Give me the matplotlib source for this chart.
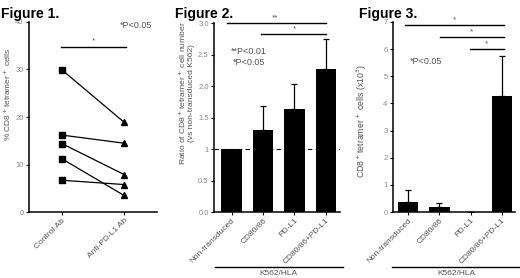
import numpy as np
import matplotlib
matplotlib.use("Agg")
import matplotlib.pyplot as plt

plt.rcParams['font.family'] = ['Liberation Sans', 'DejaVu Sans']

# Figure 1: paired values
f1_groups = ['Control Ab', 'Anti-PD-L1 Ab']
f1_control = [29.9, 16.2, 14.4, 11.2, 6.7]
f1_anti = [18.9, 14.5, 7.9, 3.5, 5.8]
f1_yticks = [0, 10, 20, 30, 40]

# Figure 2: ratio bars
f2_cats = ['Non-transduced', 'CD80/86', 'PD-L1', 'CD80/86+PD-L1']
f2_vals = [1.0, 1.30, 1.64, 2.27]
f2_err = [0.0, 0.39, 0.39, 0.48]
f2_yticks = [0.0, 0.5, 1.0, 1.5, 2.0, 2.5, 3.0]
f2_ylabels = ['0.0', '0.5', '1', '1.5', '2.0', '2.5', '3.0']

# Figure 3: cell counts
f3_cats = ['Non-transduced', 'CD80/86', 'PD-L1', 'CD80/86+PD-L1']
f3_vals = [0.38, 0.17, 0.0, 4.27]
f3_err = [0.43, 0.17, 0.0, 1.48]
f3_yticks = [0, 1, 2, 3, 4, 5, 6, 7]

TICK_C = '#8a8a8a'
LAB_C = '#555555'

fig = plt.figure(figsize=(5.2, 2.78), dpi=100)


def style(ax):
    for s in ['top', 'right']:
        ax.spines[s].set_visible(False)
    for s in ['left', 'bottom']:
        ax.spines[s].set_linewidth(1.1)
    ax.tick_params(axis='y', labelsize=5.5, labelcolor=TICK_C, length=2.5, width=0.8, pad=1.5)
    ax.tick_params(axis='x', labelsize=6, labelcolor=LAB_C, length=2.5, width=0.8, pad=1)


# ---- Figure 1
ax1 = fig.add_axes([0.056, 0.237, 0.246, 0.684])
style(ax1)
for c, a in zip(f1_control, f1_anti):
    ax1.plot([0, 1], [c, a], color='k', lw=0.9)
ax1.plot(np.zeros(len(f1_control)), f1_control, 's', color='k', ms=4)
ax1.plot(np.ones(len(f1_anti)), f1_anti, '^', color='k', ms=4)
ax1.set_xlim(-0.53, 1.53)
ax1.set_ylim(0, 40)
ax1.set_yticks(f1_yticks)
ax1.set_xticks([0, 1])
ax1.set_xticklabels(f1_groups, rotation=45, ha='right', rotation_mode='anchor')
ax1.set_ylabel('% CD8$^+$tetramer$^+$ cells', fontsize=6, color=LAB_C)
ax1.yaxis.set_label_coords(-0.125, 0.62)
ax1.plot([-0.02, 1.03], [34.7, 34.7], color='k', lw=1, clip_on=False)
ax1.text(0.5, 35.3, '*', ha='center', va='bottom', fontsize=6, color=LAB_C)
ax1.text(0.96, 0.98, '*P<0.05', transform=ax1.transAxes, ha='right', va='center',
         fontsize=6.5, color=LAB_C)
fig.text(0.002, 0.975, 'Figure 1.', fontsize=10, fontweight='bold', va='top')

# ---- Figure 2
ax2 = fig.add_axes([0.412, 0.237, 0.242, 0.680])
style(ax2)
x2 = np.arange(len(f2_cats))
ax2.bar(x2, f2_vals, width=0.66, color='k')
ax2.errorbar(x2[1:], f2_vals[1:], yerr=[np.zeros(3), f2_err[1:]], fmt='none',
             ecolor='k', elinewidth=0.9, capsize=2.5, capthick=0.9)
ax2.axhline(1.0, color='k', lw=0.8, ls=(0, (4, 3)))
ax2.set_xlim(-0.55, 3.45)
ax2.set_ylim(0, 3.0)
ax2.set_yticks(f2_yticks)
ax2.set_yticklabels(f2_ylabels)
ax2.set_xticks(x2)
ax2.set_xticklabels(f2_cats, rotation=45, ha='right', rotation_mode='anchor')
ax2.set_ylabel('Ratio of CD8$^+$tetramer$^+$ cell number\n(vs non-transduced K562)',
               fontsize=6.1, color=LAB_C, linespacing=1.1)
ax2.yaxis.set_label_coords(-0.15, 0.63)
ax2.plot([-0.15, 3.0], [3.0, 3.0], color='k', lw=1, clip_on=False)
ax2.text(1.4, 3.03, '**', ha='center', va='bottom', fontsize=6, color=LAB_C)
ax2.plot([0.95, 3.0], [2.83, 2.83], color='k', lw=1, clip_on=False)
ax2.text(2.0, 2.86, '*', ha='center', va='bottom', fontsize=6, color=LAB_C)
ax2.text(0.13, 0.85, '**P<0.01', transform=ax2.transAxes, ha='left', va='center',
         fontsize=6.5, color=LAB_C)
ax2.text(0.15, 0.79, '*P<0.05', transform=ax2.transAxes, ha='left', va='center',
         fontsize=6.5, color=LAB_C)
fig.text(0.337, 0.975, 'Figure 2.', fontsize=10, fontweight='bold', va='top')
fig.add_artist(plt.Line2D([0.413, 0.66], [0.04, 0.04], color='k', lw=1))
fig.text(0.535, 0.015, 'K562/HLA', ha='center', va='center', fontsize=6, color=LAB_C)

# ---- Figure 3
ax3 = fig.add_axes([0.756, 0.237, 0.234, 0.684])
style(ax3)
x3 = np.arange(len(f3_cats))
ax3.bar(x3, f3_vals, width=0.66, color='k')
ax3.errorbar(x3, f3_vals, yerr=[np.zeros(4), f3_err], fmt='none',
             ecolor='k', elinewidth=0.9, capsize=2.5, capthick=0.9)
ax3.set_xlim(-0.47, 3.41)
ax3.set_ylim(0, 7)
ax3.set_yticks(f3_yticks)
ax3.set_xticks(x3)
ax3.set_xticklabels(f3_cats, rotation=45, ha='right', rotation_mode='anchor')
ax3.set_ylabel('CD8$^+$tetramer$^+$ cells (x10$^3$)', fontsize=6.3, color=LAB_C)
ax3.yaxis.set_label_coords(-0.2, 0.48)
for x0, yy in zip([-0.09, 1.02, 1.97], [6.89, 6.44, 6.0]):
    ax3.plot([x0, 3.05], [yy, yy], color='k', lw=1, clip_on=False)
    ax3.text((x0 + 3.05) / 2, yy + 0.05, '*', ha='center', va='bottom', fontsize=6, color=LAB_C)
ax3.text(0.14, 0.79, '*P<0.05', transform=ax3.transAxes, ha='left', va='center',
         fontsize=6.5, color=LAB_C)
fig.text(0.69, 0.975, 'Figure 3.', fontsize=10, fontweight='bold', va='top')
fig.add_artist(plt.Line2D([0.754, 1.0], [0.04, 0.04], color='k', lw=1))
fig.text(0.877, 0.015, 'K562/HLA', ha='center', va='center', fontsize=6, color=LAB_C)

fig.savefig('out.png', dpi=100)
